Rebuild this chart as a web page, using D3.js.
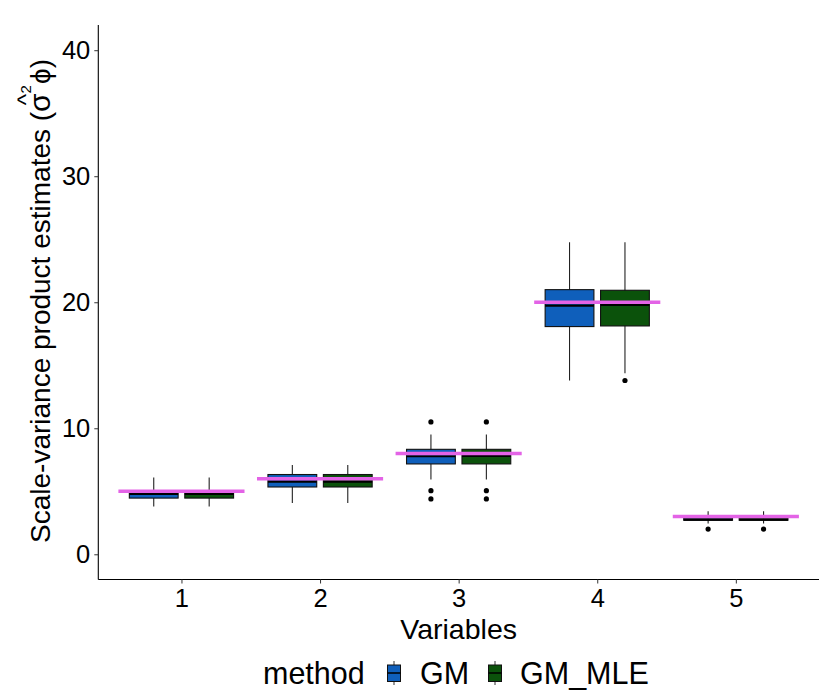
<!DOCTYPE html>
<html>
<head>
<meta charset="utf-8">
<title>Scale-variance product estimates</title>
<script src="https://cdn.jsdelivr.net/npm/d3@7"></script>
<style>
	body, html { margin: 0; padding: 0; background: #fff; }
	svg text { font-family: "Liberation Sans", Arial, sans-serif; fill: #000; }
</style>
</head>
<body>
<svg id="chart" width="825" height="700"></svg>
<script>
	// categories / groups
	var variables = ["1", "2", "3", "4", "5"];
	var methods = ["GM", "GM_MLE"];
	var methodColors = ["#0f5fbb", "#0b520b"];
	var trueValues = [5, 6, 8, 20, 3];
	var yTicks = [0, 10, 20, 30, 40];

	// box stats, one value per variable
	var gmLow    = [3.79, 4.07, 5.93, 13.79, 2.45];
	var gmQ1     = [4.46, 5.34, 7.17, 18.07, 2.70];
	var gmMedian = [4.79, 5.77, 7.78, 19.74, 2.74];
	var gmQ3     = [4.83, 6.33, 8.33, 21.00, 2.86];
	var gmHigh   = [6.09, 7.09, 9.50, 24.76, 3.41];
	var gmOut    = [[], [], [10.5, 5.05, 4.39], [], [2.0]];

	var mleLow    = [3.79, 4.07, 5.93, 14.37, 2.45];
	var mleQ1     = [4.46, 5.34, 7.17, 18.12, 2.70];
	var mleMedian = [4.79, 5.77, 7.80, 19.79, 2.74];
	var mleQ3     = [4.83, 6.33, 8.33, 20.95, 2.86];
	var mleHigh   = [6.09, 7.09, 9.50, 24.76, 3.41];
	var mleOut    = [[], [], [10.5, 5.05, 4.39], [13.79], [2.0]];

	// build rows for drawing
	var boxes = [];
	variables.forEach(function(v, i) {
		boxes.push({v: v, m: "GM", low: gmLow[i], q1: gmQ1[i], med: gmMedian[i], q3: gmQ3[i], high: gmHigh[i], out: gmOut[i]});
		boxes.push({v: v, m: "GM_MLE", low: mleLow[i], q1: mleQ1[i], med: mleMedian[i], q3: mleQ3[i], high: mleHigh[i], out: mleOut[i]});
	});

	var pL = 98.3, pR = 819, pT = 25, pB = 579.5;
	var svg = d3.select("#chart");

	var step = (pR - pL) / (variables.length - 1 + 1.2);
	var x = d3.scalePoint().domain(variables).range([pL + 0.6 * step, pR - 0.6 * step]);
	var y = d3.scaleLinear().domain([-2, 42]).range([pB, pT]);
	var color = d3.scaleOrdinal().domain(methods).range(methodColors);

	var dodge = 0.2 * step, halfBox = 0.176 * step, halfLine = 0.455 * step;
	function cx(d) { return x(d.v) + (d.m === "GM" ? -dodge : dodge); }

	var g = svg.append("g");

	// whiskers
	g.selectAll(".whisk").data(boxes).enter().append("line")
		.attr("x1", cx).attr("x2", cx)
		.attr("y1", function(d) { return y(d.low); })
		.attr("y2", function(d) { return y(d.high); })
		.attr("stroke", "#222").attr("stroke-width", 1.1);

	// boxes
	g.selectAll(".box").data(boxes).enter().append("rect")
		.attr("x", function(d) { return cx(d) - halfBox; })
		.attr("width", 2 * halfBox)
		.attr("y", function(d) { return y(d.q3); })
		.attr("height", function(d) { return y(d.q1) - y(d.q3); })
		.attr("fill", function(d) { return color(d.m); })
		.attr("stroke", "#111").attr("stroke-width", 1.1);

	// medians
	g.selectAll(".med").data(boxes).enter().append("line")
		.attr("x1", function(d) { return cx(d) - halfBox; })
		.attr("x2", function(d) { return cx(d) + halfBox; })
		.attr("y1", function(d) { return y(d.med); })
		.attr("y2", function(d) { return y(d.med); })
		.attr("stroke", "#000").attr("stroke-width", 2.2);

	// outliers
	var outs = [];
	boxes.forEach(function(d) { d.out.forEach(function(o) { outs.push({v: d.v, m: d.m, val: o}); }); });
	g.selectAll(".out").data(outs).enter().append("circle")
		.attr("cx", cx)
		.attr("cy", function(d) { return y(d.val); })
		.attr("r", 2.6).attr("fill", "#000");

	// true value segments
	g.selectAll(".truth").data(trueValues).enter().append("line")
		.attr("x1", function(d, i) { return x(variables[i]) - halfLine; })
		.attr("x2", function(d, i) { return x(variables[i]) + halfLine; })
		.attr("y1", function(d) { return y(d); })
		.attr("y2", function(d) { return y(d); })
		.attr("stroke", "#e363e6").attr("stroke-width", 3.6);

	// axes
	var yAxis = svg.append("g").attr("transform", "translate(" + pL + ",0)")
		.call(d3.axisLeft(y).tickValues(yTicks).tickSize(4).tickPadding(4));
	yAxis.select(".domain").attr("d", "M0," + pT + "V" + pB).attr("stroke", "#000").attr("stroke-width", 1.1);
	yAxis.selectAll(".tick line").attr("stroke", "#333");
	yAxis.selectAll("text").style("font-size", "25.5px").attr("fill", "#000");

	var xAxis = svg.append("g").attr("transform", "translate(0," + pB + ")")
		.call(d3.axisBottom(x).tickSize(4).tickPadding(5));
	xAxis.select(".domain").attr("d", "M" + pL + ",0H" + pR).attr("stroke", "#000").attr("stroke-width", 1.1);
	xAxis.selectAll(".tick line").attr("stroke", "#333");
	xAxis.selectAll("text").style("font-size", "25.5px").attr("fill", "#000");

	// axis titles
	svg.append("text")
		.attr("x", (pL + pR) / 2).attr("y", 639)
		.attr("text-anchor", "middle").style("font-size", "28.5px")
		.text("Variables");

	// y title: Scale-variance product estimates (sigma-hat squared phi)
	var yt = svg.append("g").attr("transform", "translate(50,301) rotate(-90)");
	var ytext = yt.append("text").attr("text-anchor", "middle").style("font-size", "28px");
	ytext.append("tspan").text("Scale-variance product estimates (");
	ytext.append("tspan").style("font-size", "30px").text("σ");
	ytext.append("tspan").attr("dy", -19).style("font-size", "15px").text("2");
	ytext.append("tspan").attr("dy", 19).attr("dx", 1).text("ϕ)");
	var sigIdx = "Scale-variance product estimates (".length;
	var p0 = ytext.node().getStartPositionOfChar(sigIdx);
	var p1 = ytext.node().getEndPositionOfChar(sigIdx);
	yt.append("text").attr("x", (p0.x + p1.x) / 2 + 3).attr("y", p0.y - 16)
		.attr("text-anchor", "middle").style("font-size", "24px").text("^");

	// legend
	var legY = 673;
	var leg = svg.append("g");
	leg.append("text").attr("x", 263).attr("y", legY + 11).style("font-size", "30.5px").text("method");
	var legKeys = [{m: "GM", kx: 394, tx: 420}, {m: "GM_MLE", kx: 495, tx: 520}];
	legKeys.forEach(function(k) {
		leg.append("line").attr("x1", k.kx).attr("x2", k.kx).attr("y1", legY - 12).attr("y2", legY + 12)
			.attr("stroke", "#333").attr("stroke-width", 1);
		leg.append("rect").attr("x", k.kx - 6.5).attr("y", legY - 8).attr("width", 13).attr("height", 16.5)
			.attr("fill", color(k.m)).attr("stroke", "#111").attr("stroke-width", 1);
		leg.append("line").attr("x1", k.kx - 6.5).attr("x2", k.kx + 6.5).attr("y1", legY).attr("y2", legY)
			.attr("stroke", "#000").attr("stroke-width", 1.5);
		leg.append("text").attr("x", k.tx).attr("y", legY + 11).style("font-size", "30.5px").text(k.m);
	});
</script>
</body>
</html>
